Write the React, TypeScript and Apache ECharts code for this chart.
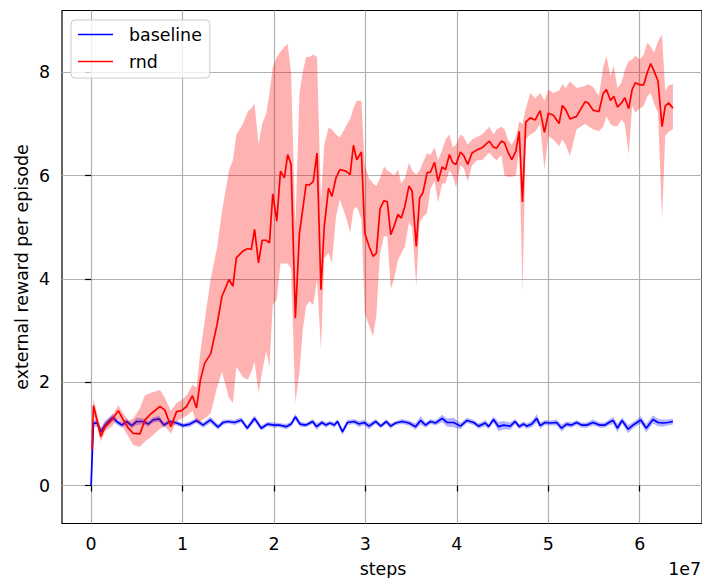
import React, { useEffect, useRef } from 'react';
import * as echarts from 'echarts';

const FONT = 'DejaVu Sans';

const xTicks = [0, 1, 2, 3, 4, 5, 6];
const yTicks = [0, 2, 4, 6, 8];

// steps in units of 1e7
const baselineSteps = [
  0.0, 0.026, 0.07, 0.107, 0.154, 0.237, 0.281, 0.336, 0.39, 0.444,
  0.499, 0.571, 0.625, 0.68, 0.745, 0.797, 0.862, 0.935, 1.007, 1.08,
  1.153, 1.225, 1.305, 1.388, 1.442, 1.497, 1.57, 1.643, 1.708, 1.788,
  1.861, 1.932, 2.005, 2.06, 2.133, 2.187, 2.234, 2.285, 2.351, 2.423,
  2.466, 2.525, 2.569, 2.612, 2.659, 2.695, 2.749, 2.804, 2.877, 2.931,
  2.986, 3.04, 3.113, 3.168, 3.229, 3.277, 3.331, 3.403, 3.476, 3.549,
  3.603, 3.658, 3.712, 3.767, 3.839, 3.893, 3.966, 4.039, 4.111, 4.184,
  4.238, 4.312, 4.347, 4.401, 4.456, 4.51, 4.584, 4.638, 4.682, 4.729,
  4.765, 4.819, 4.874, 4.911, 4.965, 5.02, 5.092, 5.146, 5.2, 5.255,
  5.309, 5.364, 5.418, 5.491, 5.564, 5.619, 5.673, 5.709, 5.756, 5.807,
  5.873, 5.927, 5.963, 6.011, 6.072, 6.145, 6.2, 6.254, 6.309, 6.363,
];
const baselineMean = [
  0.0, 1.21, 1.21, 1.04, 1.17, 1.32, 1.24, 1.17, 1.24, 1.16,
  1.24, 1.24, 1.19, 1.27, 1.29, 1.17, 1.24, 1.21, 1.16, 1.19,
  1.26, 1.17, 1.27, 1.13, 1.22, 1.24, 1.22, 1.27, 1.11, 1.3,
  1.11, 1.19, 1.17, 1.17, 1.14, 1.19, 1.33, 1.19, 1.17, 1.24,
  1.14, 1.22, 1.17, 1.21, 1.17, 1.24, 1.04, 1.22, 1.24, 1.19,
  1.22, 1.15, 1.24, 1.15, 1.24, 1.15, 1.21, 1.24, 1.21, 1.14,
  1.26, 1.17, 1.24, 1.21, 1.3, 1.22, 1.22, 1.15, 1.26, 1.22,
  1.15, 1.21, 1.14, 1.28, 1.14, 1.17, 1.15, 1.24, 1.14, 1.19,
  1.15, 1.19, 1.3, 1.16, 1.22, 1.21, 1.22, 1.11, 1.19, 1.17,
  1.22, 1.17, 1.17, 1.22, 1.17, 1.17, 1.23, 1.26, 1.11, 1.26,
  1.09, 1.17, 1.21, 1.27, 1.11, 1.28, 1.22, 1.21, 1.22, 1.24,
];
const baselineSpread = [
  0.04, 0.06, 0.07, 0.08, 0.08, 0.07, 0.06, 0.05, 0.06, 0.05,
  0.07, 0.06, 0.05, 0.05, 0.06, 0.05, 0.04, 0.05, 0.04, 0.05,
  0.05, 0.05, 0.06, 0.05, 0.05, 0.04, 0.05, 0.05, 0.05, 0.06,
  0.05, 0.04, 0.05, 0.04, 0.05, 0.05, 0.06, 0.05, 0.04, 0.05,
  0.06, 0.05, 0.05, 0.04, 0.05, 0.05, 0.06, 0.05, 0.05, 0.06,
  0.05, 0.06, 0.05, 0.04, 0.05, 0.05, 0.04, 0.05, 0.05, 0.06,
  0.08, 0.05, 0.05, 0.05, 0.07, 0.08, 0.09, 0.06, 0.05, 0.05,
  0.05, 0.06, 0.05, 0.06, 0.09, 0.08, 0.07, 0.05, 0.05, 0.05,
  0.05, 0.06, 0.08, 0.06, 0.05, 0.05, 0.06, 0.07, 0.05, 0.05,
  0.05, 0.05, 0.05, 0.06, 0.05, 0.05, 0.06, 0.07, 0.08, 0.06,
  0.08, 0.06, 0.06, 0.07, 0.08, 0.08, 0.07, 0.07, 0.06, 0.06,
];

const rndSteps = [
  0.01, 0.026, 0.107, 0.154, 0.227, 0.298, 0.353, 0.407, 0.462, 0.535,
  0.589, 0.662, 0.753, 0.807, 0.873, 0.935, 0.989, 1.044, 1.109, 1.153,
  1.196, 1.243, 1.308, 1.377, 1.431, 1.508, 1.551, 1.589, 1.66, 1.715,
  1.752, 1.788, 1.831, 1.871, 1.915, 1.951, 1.987, 2.031, 2.071, 2.114,
  2.15, 2.187, 2.234, 2.279, 2.314, 2.351, 2.387, 2.43, 2.471, 2.514,
  2.55, 2.597, 2.634, 2.678, 2.721, 2.787, 2.833, 2.869, 2.905, 2.956,
  2.993, 3.04, 3.084, 3.12, 3.16, 3.203, 3.24, 3.277, 3.313, 3.356,
  3.392, 3.432, 3.476, 3.511, 3.556, 3.593, 3.629, 3.675, 3.712, 3.756,
  3.795, 3.839, 3.876, 3.919, 3.955, 3.991, 4.039, 4.075, 4.119, 4.166,
  4.22, 4.275, 4.355, 4.402, 4.438, 4.486, 4.522, 4.558, 4.601, 4.645,
  4.682, 4.718, 4.754, 4.802, 4.857, 4.911, 4.958, 5.001, 5.056, 5.118,
  5.154, 5.19, 5.237, 5.309, 5.401, 5.437, 5.491, 5.553, 5.6, 5.636,
  5.68, 5.717, 5.756, 5.8, 5.837, 5.88, 5.917, 5.952, 6.0, 6.044,
  6.083, 6.12, 6.156, 6.2, 6.244, 6.279, 6.316, 6.363,
];
const rndMean = [
  0.69, 1.55, 0.95, 1.14, 1.27, 1.45, 1.27, 1.11, 1.01, 1.0,
  1.27, 1.4, 1.53, 1.46, 1.14, 1.43, 1.45, 1.53, 1.74, 1.5,
  2.05, 2.37, 2.55, 3.11, 3.66, 3.99, 3.86, 4.41, 4.54, 4.59,
  4.57, 4.96, 4.31, 4.75, 4.75, 4.7, 5.65, 5.12, 6.09, 5.96,
  6.41, 6.22, 3.24, 4.89, 5.34, 5.83, 5.82, 5.89, 6.44, 3.79,
  5.02, 5.76, 5.6, 5.96, 6.12, 6.09, 6.02, 6.59, 6.31, 6.46,
  4.89, 4.63, 4.44, 4.5, 5.36, 5.52, 5.49, 4.86, 5.02, 5.25,
  5.18, 5.41, 5.8, 5.7, 4.63, 5.57, 5.67, 6.06, 6.07, 6.26,
  5.89, 6.17, 6.12, 6.41, 6.25, 6.22, 6.46, 6.39, 6.22, 6.44,
  6.5, 6.54, 6.67, 6.55, 6.54, 6.67, 6.64, 6.46, 6.31, 6.47,
  6.86, 5.49, 7.04, 7.12, 7.08, 7.26, 6.84, 7.21, 7.17, 7.01,
  7.36, 7.28, 7.1, 7.15, 7.43, 7.41, 7.27, 7.24, 7.59, 7.67,
  7.46, 7.54, 7.33, 7.41, 7.51, 7.3, 7.67, 7.8, 7.76, 7.76,
  8.0, 8.17, 8.03, 7.83, 6.95, 7.35, 7.41, 7.31,
];
const rndLow = [
  0.6, 1.4, 0.85, 1.05, 1.15, 1.3, 1.12, 0.95, 0.78, 0.75,
  0.85, 0.95, 1.1, 1.15, 1.0, 1.25, 1.3, 1.35, 1.45, 1.2,
  1.25, 1.3, 1.4, 1.9, 2.2, 1.7, 1.6, 2.3, 2.1, 2.05,
  2.2, 2.4, 1.8, 2.2, 2.6, 2.3, 3.5, 3.6, 4.3, 4.3,
  4.3, 4.2, 1.6, 2.2, 3.0, 3.47, 3.57, 3.5, 4.0, 2.63,
  4.4, 4.5, 4.31, 5.2, 5.54, 5.2, 4.89, 5.34, 5.4, 5.15,
  3.34, 3.1, 2.89, 3.3, 4.5, 4.83, 4.83, 3.8, 4.0, 4.37,
  4.5, 4.63, 5.09, 5.0, 3.86, 5.09, 5.2, 5.28, 5.75, 5.9,
  5.48, 5.85, 5.85, 6.1, 6.0, 5.77, 6.2, 6.15, 5.89, 6.2,
  6.3, 6.3, 6.45, 6.35, 6.3, 6.4, 6.0, 5.98, 5.98, 6.0,
  6.5, 3.75, 6.7, 6.8, 6.85, 7.0, 6.12, 6.77, 6.7, 6.57,
  6.7, 6.6, 6.38, 6.9, 7.0, 6.96, 6.9, 6.86, 6.95, 7.15,
  7.0, 6.96, 6.96, 7.09, 7.0, 6.41, 7.35, 7.22, 7.3, 7.35,
  7.54, 7.6, 7.4, 7.22, 5.15, 6.77, 6.85, 6.9,
];
const rndHigh = [
  0.8, 1.68, 1.1, 1.25, 1.35, 1.55, 1.4, 1.25, 1.3, 1.5,
  1.75, 1.8, 1.85, 1.7, 1.45, 1.6, 1.65, 1.75, 1.95, 1.9,
  2.6, 3.2, 4.0, 4.6, 5.3, 6.1, 6.3, 6.8, 7.0, 7.25,
  7.3, 7.4, 6.6, 7.0, 7.2, 7.6, 8.1, 8.3, 8.4, 8.5,
  8.55, 8.0, 5.0, 7.6, 8.0, 8.3, 8.3, 8.35, 8.3, 5.5,
  6.6, 6.93, 6.9, 6.8, 6.74, 6.96, 7.1, 7.3, 7.45, 7.45,
  6.2, 5.95, 5.85, 5.8, 5.95, 6.18, 6.1, 6.06, 6.0, 6.12,
  5.85, 5.95, 6.25, 6.1, 6.02, 6.1, 6.25, 6.44, 6.4, 6.55,
  6.3, 6.5, 6.7, 6.8, 6.55, 6.6, 6.8, 6.75, 6.6, 6.7,
  6.75, 6.8, 6.95, 6.8, 6.9, 6.95, 6.9, 6.7, 6.6, 6.75,
  7.05, 7.0, 7.3, 7.6, 7.5, 7.6, 7.45, 7.67, 7.6, 7.65,
  7.77, 7.7, 7.83, 7.7, 7.74, 7.77, 7.72, 7.54, 8.1, 8.32,
  7.93, 8.13, 7.7, 7.8, 8.05, 8.22, 8.25, 8.33, 8.25, 8.35,
  8.58, 8.5, 8.38, 8.6, 8.74, 7.64, 7.75, 7.77,
];

function bandSeries(xs: number[], lo: number[], hi: number[], fill: string, z: number) {
  return {
    type: 'custom',
    silent: true,
    z,
    data: xs.map((x, i) => [x, lo[i], hi[i]]),
    encode: { x: 0, y: [1, 2] },
    renderItem: (params: any, api: any) => {
      if (params.dataIndex !== 0) return null;
      const top = xs.map((x, i) => api.coord([x, hi[i]]));
      const bottom = xs.map((x, i) => api.coord([x, lo[i]])).reverse();
      return {
        type: 'polygon',
        shape: { points: top.concat(bottom) },
        style: { fill, stroke: 'none' },
      };
    },
  };
}

export default function App() {
  const ref = useRef<HTMLDivElement>(null);
  useEffect(() => {
    const chart = echarts.init(ref.current!, null, { renderer: 'svg' });
    const baseLow = baselineMean.map((v, i) => v - baselineSpread[i]);
    const baseHigh = baselineMean.map((v, i) => v + baselineSpread[i]);
    const tickStyle = { show: true, length: 6, lineStyle: { color: '#000', width: 1.2 } };
    const labelStyle = { fontFamily: FONT, fontSize: 17.4, color: '#000' };
    const option: any = {
      animation: false,
      backgroundColor: '#fff',
      grid: {
        left: 62, top: 10.5, width: 642, height: 513,
        show: true, borderColor: '#000', borderWidth: 1.2, backgroundColor: 'transparent',
      },
      xAxis: {
        type: 'value',
        min: -0.318,
        max: 6.681,
        axisLine: { show: false },
        axisTick: { ...tickStyle, customValues: xTicks },
        axisLabel: { ...labelStyle, margin: 12, customValues: xTicks },
        splitLine: { show: true, lineStyle: { color: '#b0b0b0', width: 1.2 } },
      },
      yAxis: {
        type: 'value',
        min: -0.736,
        max: 9.2,
        axisLine: { show: false },
        axisTick: { ...tickStyle, customValues: yTicks },
        axisLabel: { ...labelStyle, margin: 12, customValues: yTicks },
        splitLine: { show: true, lineStyle: { color: '#b0b0b0', width: 1.2 } },
      },
      legend: {
        data: [
          { name: 'baseline', icon: 'rect', itemStyle: { color: '#0000ff' } },
          { name: 'rnd', icon: 'rect', itemStyle: { color: '#ff0000' } },
        ],
        orient: 'vertical',
        left: 71,
        top: 20,
        itemWidth: 35,
        itemHeight: 1.7,
        itemGap: 10,
        padding: [6, 8, 8, 7],
        backgroundColor: 'rgba(255,255,255,0.8)',
        borderColor: '#cccccc',
        borderWidth: 1,
        borderRadius: 4,
        textStyle: { fontFamily: FONT, fontSize: 17.4, color: '#000', padding: [0, 0, 0, 11] },
        selectedMode: false,
      },
      graphic: [
        {
          type: 'text', x: 22, y: 267, rotation: Math.PI / 2,
          style: { text: 'external reward per episode', fontFamily: FONT, fontSize: 17.4, fill: '#000', textAlign: 'center', textVerticalAlign: 'middle' },
        },
        {
          type: 'text', x: 383, y: 569,
          style: { text: 'steps', fontFamily: FONT, fontSize: 17.4, fill: '#000', textAlign: 'center', textVerticalAlign: 'middle' },
        },
        {
          type: 'text', x: 701, y: 569,
          style: { text: '1e7', fontFamily: FONT, fontSize: 17.4, fill: '#000', textAlign: 'right', textVerticalAlign: 'middle' },
        },
      ],
      series: [
        bandSeries(baselineSteps, baseLow, baseHigh, 'rgba(0,0,255,0.3)', 1),
        {
          name: 'baseline', type: 'line', z: 2, symbol: 'none', silent: true,
          data: baselineSteps.map((x, i) => [x, baselineMean[i]]),
          lineStyle: { color: '#0000ff', width: 1.7 }, itemStyle: { color: '#0000ff' },
        },
        bandSeries(rndSteps, rndLow, rndHigh, 'rgba(255,0,0,0.3)', 3),
        {
          name: 'rnd', type: 'line', z: 4, symbol: 'none', silent: true,
          data: rndSteps.map((x, i) => [x, rndMean[i]]),
          lineStyle: { color: '#ff0000', width: 1.7 }, itemStyle: { color: '#ff0000' },
        },
      ],
    };
    chart.setOption(option);
    return () => chart.dispose();
  }, []);
  return (
    <div
      ref={ref}
      style={{ position: 'absolute', left: 0, top: 0, width: 702, height: 578, background: '#fff' }}
    />
  );
}
